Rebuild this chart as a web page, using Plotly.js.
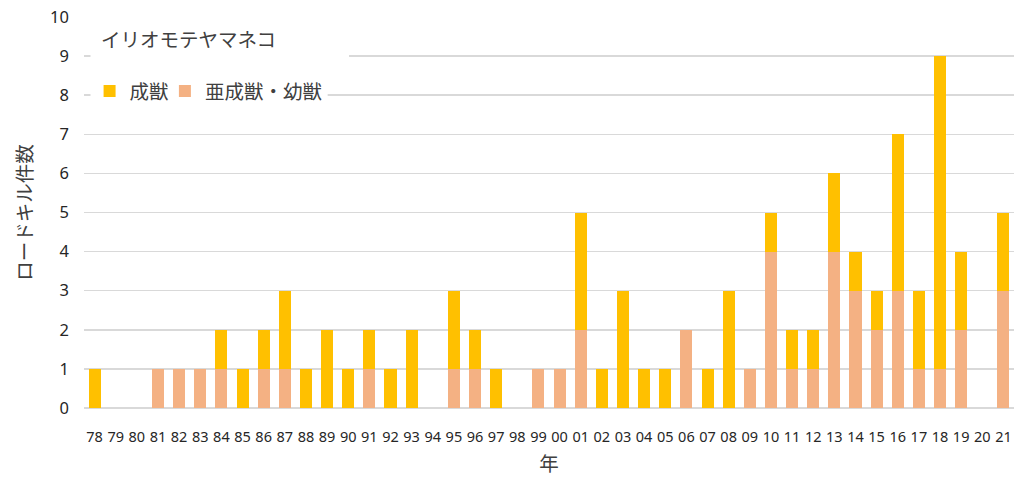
<!DOCTYPE html>
<html>
<head>
<meta charset="utf-8">
<script src="https://cdn.plot.ly/plotly-3.0.1.min.js"></script>
<style>
  html, body { margin: 0; padding: 0; background: #fff; }
  #chart { width: 1015px; height: 477px; }
</style>
</head>
<body>
<div id="chart"></div>
<script>
// Iriomote cat road-kill counts per year (1978–2021), split by age class
const years = ['78','79','80','81','82','83','84','85','86','87','88','89','90','91','92','93','94','95','96','97','98','99',
               '00','01','02','03','04','05','06','07','08','09','10','11','12','13','14','15','16','17','18','19','20','21'];
const juvenile = [0,0,0,1,1,1,1,0,1,1,0,0,0,1,0,0,0,1,1,0,0,1,
                  1,2,0,0,0,0,2,0,0,1,4,1,1,4,3,2,3,1,1,2,0,3];
const adult    = [1,0,0,0,0,0,1,1,1,2,1,2,1,1,1,2,0,2,1,1,0,0,
                  0,3,1,3,1,1,0,1,3,0,1,1,1,2,1,1,4,2,8,2,0,2];

const nameAdult = '成獣';
const nameJuvenile = '亜成獣・幼獣';
const chartTitle = 'イリオモテヤマネコ';
const xTitle = '年';
const yTitle = 'ロードキル件数';

const jp = '"Noto Sans CJK JP", "Noto Sans", sans-serif';
const num = '"Noto Sans", "Noto Sans CJK JP", sans-serif';

const traces = [
  { type: 'bar', name: nameJuvenile, x: years, y: juvenile, legend: 'legend2',
    marker: { color: '#F4B183' }, hoverinfo: 'x+y+name' },
  { type: 'bar', name: nameAdult, x: years, y: adult, legend: 'legend',
    marker: { color: '#FFC000' }, hoverinfo: 'x+y+name' }
];

// one legend box per series so the two entries sit side by side
const legendStyle = (x) => ({
  orientation: 'h',
  x: x, xanchor: 'left',
  y: 0.86, yanchor: 'top',
  bgcolor: 'rgba(255,255,255,0)',
  font: { family: jp, size: 19.5, color: '#404040' },
  itemclick: false, itemdoubleclick: false
});

const layout = {
  width: 1015, height: 477,
  margin: { l: 84, r: 1, t: 17, b: 69 },
  paper_bgcolor: '#ffffff',
  plot_bgcolor: '#ffffff',
  barmode: 'stack',
  bargap: 0.43,
  showlegend: true,
  legend: legendStyle(0.006),
  legend2: legendStyle(0.087),
  xaxis: {
    type: 'category',
    tickfont: { family: num, size: 14.5, color: '#262626' },
    ticks: '',
    ticklabelstandoff: 18,
    showgrid: false,
    showline: false,
    zeroline: false,
    title: { text: xTitle, font: { family: jp, size: 19.5, color: '#404040' }, standoff: 17 }
  },
  yaxis: {
    range: [0, 10],
    dtick: 1,
    tickfont: { family: num, size: 16.5, color: '#262626' },
    ticks: '',
    ticklabelstandoff: 14,
    showgrid: true,
    gridcolor: '#d9d9d9',
    gridwidth: 1.5,
    zeroline: true,
    zerolinecolor: '#d9d9d9',
    zerolinewidth: 1.5,
    showline: false,
    title: { text: yTitle, font: { family: jp, size: 19.5, color: '#404040' }, standoff: 12 }
  },
  shapes: [
    // white boxes behind the title and legend text
    { type: 'rect', xref: 'paper', yref: 'paper', layer: 'above',
      x0: 0.007, x1: 0.285, y0: 0.87, y1: 1.01,
      fillcolor: '#ffffff', line: { width: 0 } },
    { type: 'rect', xref: 'paper', yref: 'paper', layer: 'above',
      x0: 0.007, x1: 0.262, y0: 0.76, y1: 0.87,
      fillcolor: '#ffffff', line: { width: 0 } }
  ],
  annotations: [
    { text: chartTitle, xref: 'paper', yref: 'paper',
      x: 0.016, xanchor: 'left', y: 0.944, yanchor: 'middle',
      showarrow: false, font: { family: jp, size: 19.5, color: '#404040' } }
  ]
};

Plotly.newPlot('chart', traces, layout, { displayModeBar: false, staticPlot: true });
</script>
</body>
</html>
